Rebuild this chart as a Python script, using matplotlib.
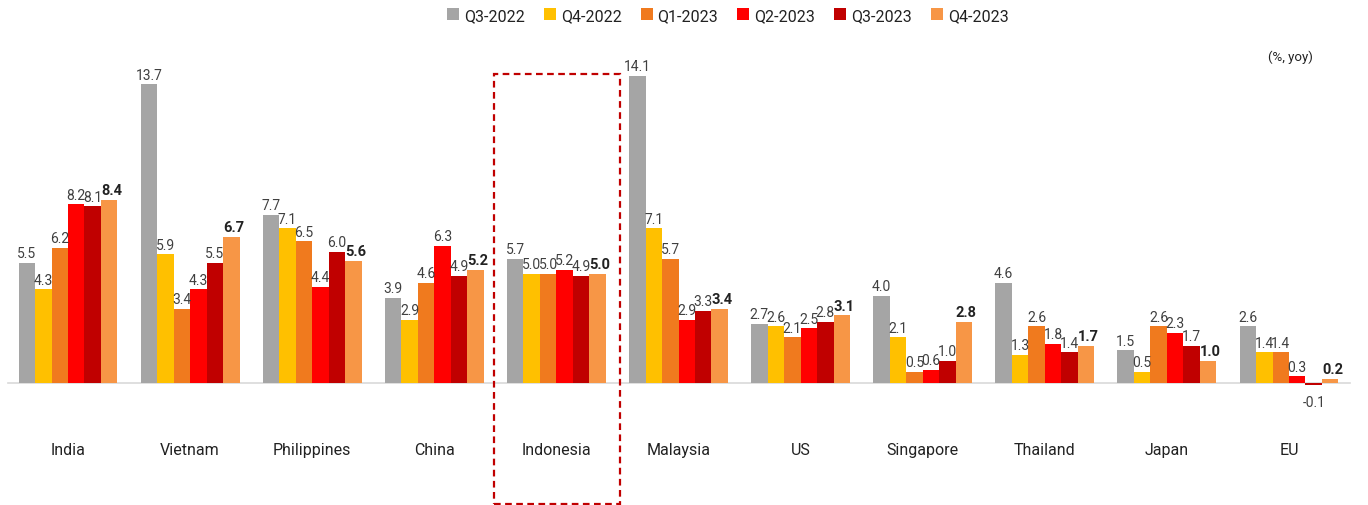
import matplotlib.pyplot as plt
import numpy as np
from matplotlib.patches import Rectangle

plt.rcParams['font.family'] = ['Roboto', 'DejaVu Sans']

# GDP growth, % yoy
countries = ['India', 'Vietnam', 'Philippines', 'China', 'Indonesia', 'Malaysia',
             'US', 'Singapore', 'Thailand', 'Japan', 'EU']
quarters = ['Q3-2022', 'Q4-2022', 'Q1-2023', 'Q2-2023', 'Q3-2023', 'Q4-2023']
q3_2022 = [5.5, 13.7, 7.7, 3.9, 5.7, 14.1, 2.7, 4.0, 4.6, 1.5, 2.6]
q4_2022 = [4.3, 5.9, 7.1, 2.9, 5.0, 7.1, 2.6, 2.1, 1.3, 0.5, 1.4]
q1_2023 = [6.2, 3.4, 6.5, 4.6, 5.0, 5.7, 2.1, 0.5, 2.6, 2.6, 1.4]
q2_2023 = [8.2, 4.3, 4.4, 6.3, 5.2, 2.9, 2.5, 0.6, 1.8, 2.3, 0.3]
q3_2023 = [8.1, 5.5, 6.0, 4.9, 4.9, 3.3, 2.8, 1.0, 1.4, 1.7, -0.1]
q4_2023 = [8.4, 6.7, 5.6, 5.2, 5.0, 3.4, 3.1, 2.8, 1.7, 1.0, 0.2]
series = [q3_2022, q4_2022, q1_2023, q2_2023, q3_2023, q4_2023]
colors = ['#A5A5A5', '#FFC000', '#F07A1E', '#FF0000', '#C00000', '#F79646']
highlight = 'Indonesia'

fig = plt.figure(figsize=(13.68, 5.06), dpi=100)
ax = fig.add_axes([0, 0, 1, 1])

x = np.arange(len(countries))
width = 0.135
offsets = (np.arange(len(series)) - 2.5) * width

handles = []
for i, (vals, col) in enumerate(zip(series, colors)):
    bars = ax.bar(x + offsets[i], vals, width, color=col, label=quarters[i], zorder=2)
    handles.append(bars)
    last = i == len(series) - 1
    for xi, v in zip(x + offsets[i], vals):
        va = 'bottom' if v >= 0 else 'top'
        dy = 0.12 if v >= 0 else -0.45
        ax.text(xi + (0.02 if last else 0), v + dy, f'{v:.1f}', ha='center', va=va,
                fontsize=10.5 if last else 10, color='#222222' if last else '#404040',
                fontweight='bold' if last else 'normal', zorder=3)

ax.set_xlim(-0.557, 10.647)
ax.set_ylim(-5.6, 17.61)
ax.axhline(0, xmin=0.006, xmax=0.987, color='#D9D9D9', lw=1.2, zorder=1)
ax.axis('off')

for xi, name in zip(x, countries):
    ax.text(xi, -3.07, name, ha='center', va='center', fontsize=11.5, color='#222222')

# dashed box around the highlighted country
hi = countries.index(highlight)
ax.add_patch(Rectangle((hi - 0.51, -5.55), 1.03, 14.17 + 5.55, fill=False,
                       ls=(0, (3, 2)), lw=1.6, edgecolor='#C00000', zorder=4, clip_on=False))

ax.text(0.943, 0.887, '(%, yoy)', transform=ax.transAxes, ha='center', va='center',
        fontsize=9.5, color='#222222')

fig.legend(handles=handles, labels=quarters, loc='center', bbox_to_anchor=(0.532, 0.968),
           ncol=6, frameon=False, fontsize=11.5, handlelength=0.75, handleheight=0.75,
           handletextpad=0.3, columnspacing=1.2, labelcolor='#222222')

fig.savefig('out.png', dpi=100)
